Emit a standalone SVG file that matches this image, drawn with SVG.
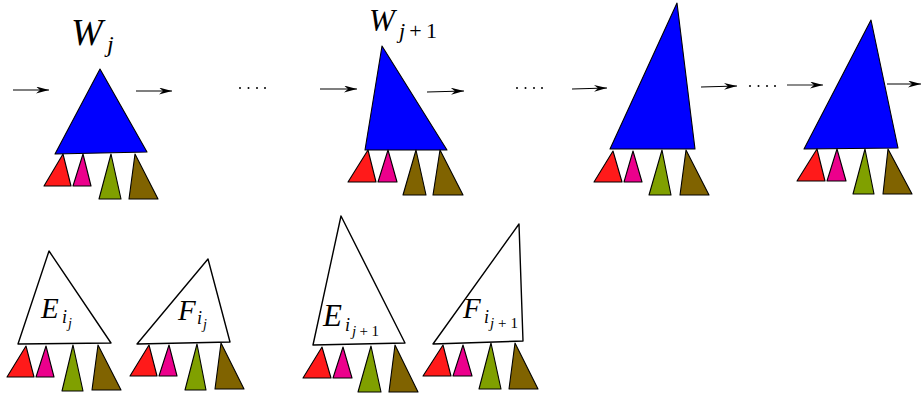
<svg xmlns="http://www.w3.org/2000/svg" width="921" height="393" viewBox="0 0 921 393">
<defs>
<marker id="ah" markerWidth="14" markerHeight="8" refX="13" refY="3.5" orient="auto" markerUnits="userSpaceOnUse">
<path d="M0,0 L13,3.5 L0,7 L4,3.5 Z" fill="#000"/>
</marker>
</defs>
<style>
polygon{stroke:#000;stroke-width:1.1;stroke-linejoin:round}
.b{fill:#0000ff}
.w{fill:#fff;stroke-width:1.4}
.r{fill:#ff1a1a}
.p{fill:#ec008c}
.g{fill:#80a000}
.o{fill:#806300}
.ar{stroke:#000;stroke-width:1.2;fill:none;marker-end:url(#ah)}
.ag{stroke:#666;stroke-width:1.4;fill:none;marker-end:url(#ah)}
.d{fill:#000}
text{font-family:"Liberation Serif","DejaVu Serif",serif;fill:#000}
.it{font-style:italic}
</style>

<g id="W1">
<polygon class="b" points="100,69 55,154 147,152"/>
<polygon class="r" points="63,154 44,186 71,186"/>
<polygon class="p" points="83,154 73,186 91,186"/>
<polygon class="g" points="111,154 99,199 121,199"/>
<polygon class="o" points="135,154 129,199 158,199"/>
<text x="71" y="45" font-size="38" class="it">W</text>
<text x="107" y="52" font-size="24" class="it">j</text>
</g>

<g id="W2">
<polygon class="b" points="382,46 365,150 447,150"/>
<polygon class="r" points="368,150 348,182 376,182"/>
<polygon class="p" points="388,150 378,182 397,182"/>
<polygon class="o" points="416,150 403,195 426,195"/>
<polygon class="o" points="440,150 433,195 463,195"/>
<text x="369" y="31" font-size="31" class="it">W</text>
<text x="399" y="38" font-size="22" textLength="38" lengthAdjust="spacing"><tspan class="it">j</tspan>+1</text>
</g>

<g id="W3">
<polygon class="b" points="677,3 610,149 695,149"/>
<polygon class="r" points="613,151 594,182 622,182"/>
<polygon class="p" points="633,151 624,182 642,182"/>
<polygon class="g" points="662,150 649,195 671,195"/>
<polygon class="o" points="686,150 680,195 709,195"/>
</g>

<g id="W4">
<polygon class="b" points="871,20 804,149 898,148"/>
<polygon class="r" points="817,149 797,181 825,181"/>
<polygon class="p" points="837,149 827,181 846,181"/>
<polygon class="g" points="865,149 853,194 874,194"/>
<polygon class="o" points="888,149 883,194 912,194"/>
</g>

<g id="E1">
<polygon class="w" points="49,251 18,344 111,343"/>
<polygon class="r" points="26,346 7,377 34,377"/>
<polygon class="p" points="46,346 36,377 54,377"/>
<polygon class="g" points="73,345 62,391 83,391"/>
<polygon class="o" points="98,345 92,390 121,390"/>
<text x="41" y="318" font-size="29" class="it">E</text>
<text x="62" y="323" font-size="18" class="it">i</text>
<text x="68" y="328" font-size="14" class="it">j</text>
</g>

<g id="F1">
<polygon class="w" points="208,259 137,344 230,342"/>
<polygon class="r" points="149,345 130,376 157,376"/>
<polygon class="p" points="169,345 159,376 177,376"/>
<polygon class="g" points="197,344 185,390 206,390"/>
<polygon class="o" points="221,343 215,389 244,389"/>
<text x="178" y="320" font-size="29" class="it">F</text>
<text x="197" y="324" font-size="18" class="it">i</text>
<text x="203" y="329" font-size="14" class="it">j</text>
</g>

<g id="E2">
<polygon class="w" points="341,216 313,345 405,343"/>
<polygon class="r" points="322,347 303,378 331,378"/>
<polygon class="p" points="343,347 333,378 352,378"/>
<polygon class="g" points="371,346 358,392 381,392"/>
<polygon class="o" points="395,345 389,392 418,392"/>
<text x="323" y="326" font-size="31" class="it">E</text>
<text x="345" y="331" font-size="18" class="it">i</text>
<text x="352" y="336" font-size="15" textLength="27" lengthAdjust="spacing"><tspan class="it">j</tspan>+1</text>
</g>

<g id="F2">
<polygon class="w" points="519,224 433,344 523,341"/>
<polygon class="r" points="443,345 423,376 451,376"/>
<polygon class="p" points="463,345 453,376 472,376"/>
<polygon class="g" points="491,343 479,389 501,389"/>
<polygon class="o" points="515,343 509,389 538,389"/>
<text x="463" y="318" font-size="29" class="it">F</text>
<text x="484" y="323" font-size="18" class="it">i</text>
<text x="490" y="328" font-size="15" textLength="28" lengthAdjust="spacing"><tspan class="it">j</tspan>+1</text>
</g>

<g id="connectors">
<line class="ar" x1="13" y1="90" x2="49" y2="90"/>
<line class="ar" x1="136" y1="91" x2="172" y2="91"/>
<line class="ar" x1="320" y1="89" x2="357" y2="89"/>
<line class="ar" x1="427" y1="92" x2="464" y2="91"/>
<line class="ar" x1="572" y1="89" x2="607" y2="88"/>
<line class="ar" x1="701" y1="87" x2="737" y2="86"/>
<line class="ag" x1="787" y1="85" x2="823" y2="85"/>
<line class="ar" x1="887" y1="84" x2="921" y2="84"/>
</g>

<g id="dots">
<circle class="d" cx="240" cy="88" r="1"/>
<circle class="d" cx="248.5" cy="88" r="1"/>
<circle class="d" cx="257" cy="88" r="1"/>
<circle class="d" cx="265" cy="88" r="1"/>
<circle class="d" cx="517" cy="88" r="1"/>
<circle class="d" cx="525.5" cy="88" r="1"/>
<circle class="d" cx="534" cy="88" r="1"/>
<circle class="d" cx="542" cy="88" r="1"/>
<circle class="d" cx="750" cy="86" r="1"/>
<circle class="d" cx="758.5" cy="86" r="1"/>
<circle class="d" cx="767" cy="86" r="1"/>
<circle class="d" cx="775" cy="86" r="1"/>
</g>
</svg>
